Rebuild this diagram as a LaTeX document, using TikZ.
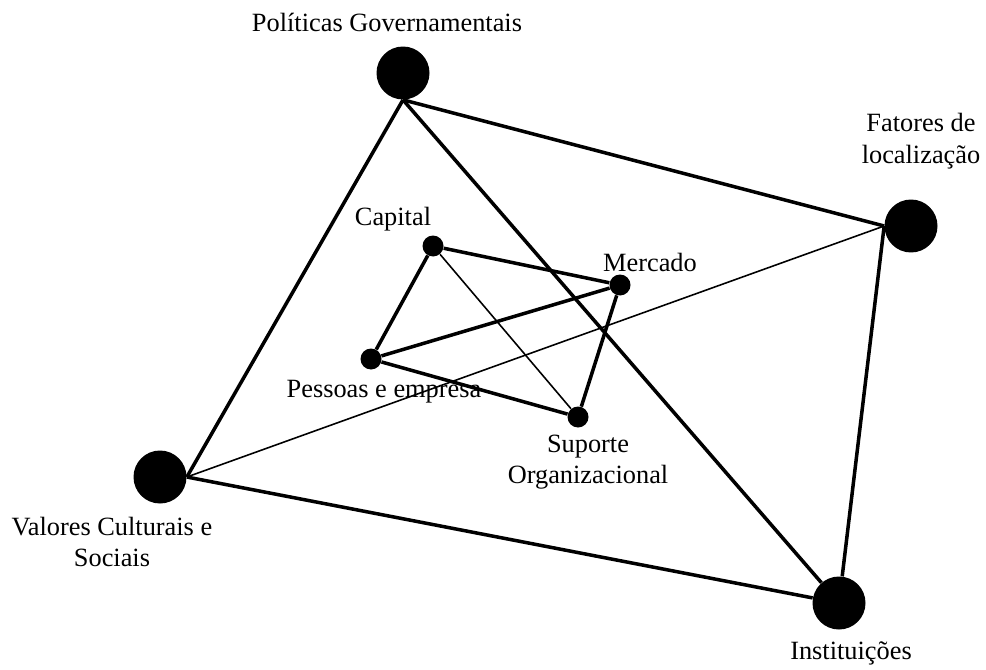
\documentclass[tikz,border=0pt]{standalone}
\usepackage{fontspec}
\setmainfont{Liberation Serif}
\usepackage{tikz}
\usetikzlibrary{calc}

\begin{document}
\begin{tikzpicture}[x=0.02cm, y=-0.02cm]

% Styles
\tikzset{
  bigpoint/.style={circle, fill, inner sep=0pt, minimum size=1.06cm},
  smallpoint/.style={circle, fill, inner sep=0pt, minimum size=0.42cm},
  strong/.style={line width=2pt},
  weak/.style={line width=0.9pt},
  lbl/.style={font=\fontsize{15}{18}\selectfont, align=center, inner sep=0pt}
}

\useasboundingbox (0,0) rectangle (986,669);

% Outer factors
\node[bigpoint] (pol) at (403,73) {};
\node[bigpoint] (fat) at (911,226) {};
\node[bigpoint] (val) at (160,477) {};
\node[bigpoint] (inst) at (839,603) {};

% Inner factors
\node[smallpoint] (cap) at (433,246) {};
\node[smallpoint] (mer) at (620,285) {};
\node[smallpoint] (pes) at (371,359) {};
\node[smallpoint] (sup) at (578,417) {};

% Outer links
\draw[strong] (pol.south) -- (val.east);
\draw[strong] (pol.south) -- (inst);
\draw[strong] (pol.south) -- (fat.west);
\draw[strong] (fat.west) -- (inst);
\draw[strong] (val.east) -- (inst);
\draw[weak] (val.east) -- (fat.west);

% Inner links
\draw[strong] (cap) -- (pes);
\draw[strong] (cap) -- (mer);
\draw[strong] (pes) -- (mer);
\draw[strong] (pes) -- (sup);
\draw[strong] (mer) -- (sup);
\draw[weak] (cap) -- (sup);

% Labels
\node[lbl] (polt) at (387,22) {Políticas Governamentais};
\node[lbl] (fatt) at (921,141) {Fatores de\\localização};
\node[lbl] (valt) at (112,542) {Valores Culturais e\\Sociais};
\node[lbl] (instt) at (851,653) {Instituições};
\node[lbl] (capt) at (393,219) {Capital};
\node[lbl] (mert) at (650,262) {Mercado};
\node[lbl] (pest) at (384,392) {Pessoas e empresa};
\node[lbl] (supt) at (588,462) {Suporte\\Organizacional};

\end{tikzpicture}
\end{document}
